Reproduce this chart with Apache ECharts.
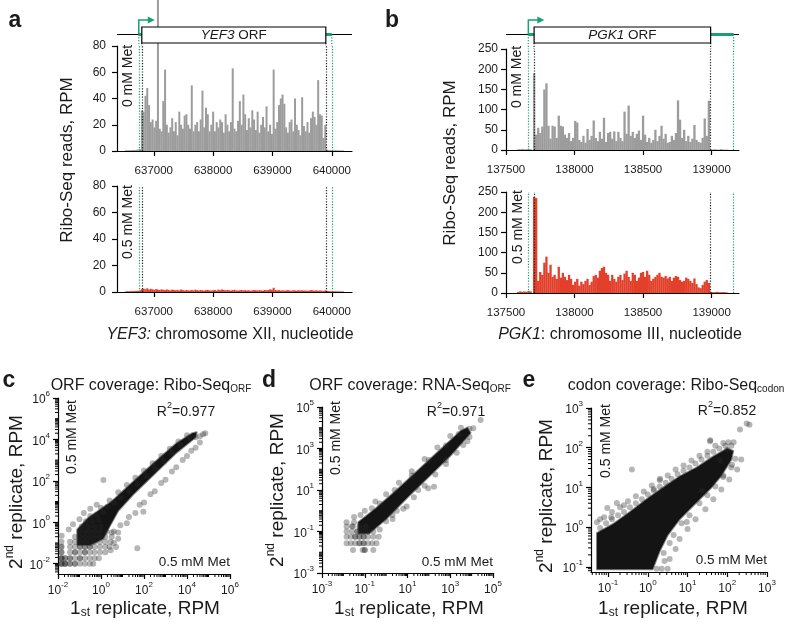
<!DOCTYPE html>
<html><head><meta charset="utf-8">
<script src="https://cdn.jsdelivr.net/npm/echarts@6.0.0/dist/echarts.min.js"></script>
<style>html,body{margin:0;padding:0;background:#fff}#c{width:785px;height:625px}</style>
</head><body><div id="c"></div>
<script>
// ---------------- DATA ----------------
// Panel a: YEF3 (chromosome XII), Ribo-Seq RPM per position
const yef3Pos = [636530,636560,636590,636620,636650,636680,636710,636740,636770,
636800,636830,636860,636890,636920,636950,636980,637010,637040,637070,
637100,637130,637160,637190,637220,637250,637280,637310,637340,637370,
637400,637430,637460,637490,637520,637550,637580,637610,637640,637670,
637700,637730,637760,637790,637820,637850,637880,637910,637940,637970,
638000,638030,638060,638090,638120,638150,638180,638210,638240,638270,
638300,638330,638360,638390,638420,638450,638480,638510,638540,638570,
638600,638630,638660,638690,638720,638750,638780,638810,638840,638870,
638900,638930,638960,638990,639020,639050,639080,639110,639140,639170,
639200,639230,639260,639290,639320,639350,639380,639410,639440,639470,
639500,639530,639560,639590,639620,639650,639680,639710,639740,639770,
639800,639830,639860,639890,
639920,639950,639980,640010,640040,640070,640100,640130,640160,640190];
const yef3Rpm0 = [0.6,0.5,0.7,0.6,0.8,0.7,1.0,1.2,1.5,
31,30,42,48,35,22,24,18,23,135,
17,15,38,62,20,14,18,25,15,22,
12,30,20,17,27,28,20,17,50,15,
20,22,15,24,46,18,33,28,15,20,
30,15,22,18,24,22,14,28,20,15,
22,63,17,15,23,38,20,43,28,16,
25,18,31,24,16,30,14,20,26,18,
34,15,20,13,62,17,22,35,40,43,
36,18,14,22,24,15,40,20,16,12,
41,19,15,22,14,25,30,26,20,54,
28,27,10,20,
1.0,0.8,0.7,0.6,0.5,0.6,0.5,0.4,0.5,0.4];
const yef3Rpm05 = [0.5,0.6,0.5,0.7,0.6,0.8,0.9,1.0,1.2,
2.2,2.5,2.0,2.8,1.8,2.4,2.0,1.6,2.2,1.8,
1.5,2.0,1.7,1.4,1.9,1.6,1.2,1.8,1.5,1.3,
1.6,1.2,1.9,1.4,1.1,1.5,1.3,1.0,1.6,1.2,
1.8,1.4,1.1,1.5,1.3,1.0,1.4,1.6,1.2,1.1,
1.3,1.5,1.0,1.8,1.4,1.9,1.6,1.2,1.5,1.3,
1.1,1.4,1.7,1.2,1.0,1.3,1.5,1.2,1.4,1.1,
1.3,1.0,1.2,1.5,1.3,1.1,1.4,1.2,1.0,1.6,
1.3,1.5,2.0,1.7,3.2,1.5,1.2,1.4,1.1,1.3,
1.0,1.2,1.4,1.1,0.9,1.3,1.2,1.0,1.4,1.1,
1.3,1.0,1.2,0.9,1.1,1.4,1.2,1.0,1.3,0.9,
1.1,1.0,0.8,1.2,
0.8,0.7,0.6,0.5,0.5,0.6,0.4,0.5,0.4,0.4];
// [TSS, ORF start, ORF end, TES]
const yef3Features = [636747, 636798, 639899, 640000];
const yef3Ticks = [637000, 638000, 639000, 640000];
const countTicksA = [0, 20, 40, 60, 80];

// Panel b: PGK1 (chromosome III)
const pgk1Pos = [137590,137605,137620,137635,137650,137665,137680,
137705,137720,137735,137750,137765,137780,137795,137810,137825,137840,
137855,137870,137885,137900,137915,137930,137945,137960,137975,137990,
138005,138020,138035,138050,138065,138080,138095,138110,138125,138140,
138155,138170,138185,138200,138215,138230,138245,138260,138275,138290,
138305,138320,138335,138350,138365,138380,138395,138410,138425,138440,
138455,138470,138485,138500,138515,138530,138545,138560,138575,138590,
138605,138620,138635,138650,138665,138680,138695,138710,138725,138740,
138755,138770,138785,138800,138815,138830,138845,138860,138875,138890,
138905,138920,138935,138950,138965,138980,
138995,139010,139025,139040,139055,139070,139085,139100,139115];
const pgk1Rpm0 = [2,2,3,2,2,3,2,
190,38,55,42,58,150,165,60,28,60,
58,30,85,60,58,38,30,42,22,30,
72,68,25,20,35,18,52,25,35,73,
30,22,45,28,80,20,42,45,28,46,
22,45,30,22,95,40,110,35,45,30,
40,48,25,85,38,20,30,18,25,50,
22,35,60,28,40,18,20,35,25,42,
123,75,30,50,22,35,20,28,62,25,
20,18,30,78,35,122,
2,1,2,1,1,2,1,1,1];
const pgk1Rpm05 = [3,4,3,4,3,5,4,
238,235,30,52,45,75,90,50,70,40,
45,35,65,38,50,40,32,45,35,20,
28,35,18,28,22,30,35,20,28,42,
45,38,55,62,65,50,45,30,45,35,
28,40,45,32,48,55,40,30,50,45,
30,38,50,52,40,55,45,30,35,40,
45,50,40,38,42,36,40,30,38,42,
40,32,28,30,38,35,30,25,36,22,
14,12,20,28,32,25,
3,2,2,3,2,2,2,2,1];
const pgk1Features = [137663, 137705, 138993, 139161];
const pgk1Ticks = [137500, 138000, 138500, 139000];
const countTicksB = [0, 50, 100, 150, 200, 250];

// Panels c-e: log10(RPM), replicate 1 vs replicate 2
// saturated (fully overlapping) region outlines
const cCore = [[-1.1,-0.35],[-0.6,0.2],[0.5,1.0],[1.5,1.95],[2.5,2.9],[3.5,3.8],[4.25,4.3],[4.45,4.35],
[4.4,4.1],[3.5,3.35],[2.5,2.35],[1.5,1.35],[0.8,0.55],[0.4,-0.2],[0.1,-0.8],[-0.5,-1.1],[-1.1,-1.1]];
const cPoints = [
[-1.84,-2],[-1.84,-2],[-1.84,-2],[-1.67,-2],[-1.67,-2],[-1.67,-2],[-1.44,-2],[-1.44,-2],[-1.21,-2],[-1.21,-2],[-0.98,-2],[-0.75,-2],[-0.52,-2],[-0.36,-2],
[-1.84,-1.74],[-1.84,-1.74],[-1.84,-1.74],[-1.67,-1.74],[-1.67,-1.74],[-1.44,-1.74],[-1.44,-1.74],[-1.21,-1.74],[-0.98,-1.74],[-0.98,-1.74],[-0.75,-1.74],[-0.52,-1.74],[-0.3,-1.74],[-0.1,-1.74],
[-1.84,-1.45],[-1.84,-1.45],[-1.44,-1.45],[-1.21,-1.45],[-1.21,-1.45],[-0.98,-1.45],[-0.75,-1.45],[-0.75,-1.45],[-0.52,-1.45],[-0.3,-1.45],[-0.05,-1.45],[0.2,-1.45],
[-1.84,-1.18],[-1.84,-1.18],[-1.44,-1.18],[-1.21,-1.18],[-0.98,-1.18],[-0.98,-1.18],[-0.75,-1.18],[-0.75,-1.18],[-0.52,-1.18],[-0.52,-1.18],[-0.3,-1.18],[-0.05,-1.18],[0.2,-1.18],[0.4,-1.18],
[-1.84,-0.94],[-1.44,-0.94],[-1.21,-0.94],[-0.98,-0.94],[-0.75,-0.94],[-0.52,-0.94],[-0.3,-0.94],[-0.05,-0.94],[0.2,-0.94],[0.45,-0.94],
[-1.83,-0.65],[-1.21,-0.7],[-0.98,-0.7],[-0.75,-0.7],[-0.52,-0.7],[-0.3,-0.7],[-0.05,-0.7],[0.2,-0.7],[0.5,-0.7],
[-1.0,-0.45],[-0.75,-0.45],[-0.52,-0.45],[-0.3,-0.45],[-0.05,-0.45],[0.25,-0.45],[0.6,-0.45],
[-0.9,-0.2],[-0.6,-0.2],[-0.3,-0.2],[0.0,-0.2],[-0.7,0.05],[-0.4,0.05],[-0.1,0.1],[-0.5,0.3],[-0.2,0.35],[0.1,0.5],
[-1.5,-0.35],[-1.3,-0.1],[-1.0,0.15],[-0.8,0.45],[-0.5,0.65],[-0.2,0.85],[0.6,-1.0],[0.8,-0.8],[0.45,-1.35],[0.7,-1.2],
[0.3,0.75],[0.6,0.95],[0.9,1.2],[1.3,1.5],[1.7,1.85],[2.1,2.25],[2.5,2.6],[2.9,2.95],[3.3,3.35],[3.7,3.7],[4.1,4.05],[4.4,4.1],[4.6,4.15],[4.75,4.25],[4.85,4.3],
[0.0,0.7],[0.4,1.05],[0.8,1.45],[1.2,1.8],[1.6,2.15],[2.0,2.5],[2.4,2.85],[2.8,3.2],[3.2,3.55],[3.6,3.9],[4.0,4.2],
[0.5,-0.5],[0.9,-0.15],[1.3,0.25],[1.8,0.85],[2.3,1.35],[2.8,1.9],[3.3,2.45],[3.8,3.0],[4.2,3.45],[4.6,3.85],
[0.8,-0.5],[1.2,-0.05],[1.6,0.45],[2.0,0.95],[2.5,1.5],[3.0,2.05],[3.5,2.65],[4.0,3.2],[4.4,3.6],
[0.11,2.04],[1.97,0.51],[1.69,-1.26]];
const dCore = [[-1.3,-0.55],[-0.5,0.1],[0.5,1.0],[1.5,1.95],[2.5,2.9],[3.5,3.85],[3.8,4.0],
[3.95,3.75],[3.0,2.65],[2.0,1.65],[1.0,0.65],[0.0,-0.4],[-0.8,-1.1],[-1.3,-1.1]];
const dPoints = [
[-1.55,-1.89],[-1.1,-1.89],[-1.0,-1.89],[-1.0,-1.89],[-0.6,-1.89],
[-1.85,-1.57],[-1.65,-1.57],[-1.45,-1.57],[-1.25,-1.57],[-1.25,-1.57],[-1.05,-1.57],[-1.05,-1.57],[-0.85,-1.57],[-0.65,-1.57],[-0.45,-1.57],
[-1.85,-1.25],[-1.65,-1.25],[-1.45,-1.25],[-1.45,-1.25],[-1.25,-1.25],[-1.25,-1.25],[-1.05,-1.25],[-1.05,-1.25],[-0.85,-1.25],[-0.6,-1.25],[-0.35,-1.25],
[-1.85,-1.0],[-1.6,-1.0],[-1.35,-1.0],[-1.35,-1.0],[-1.1,-1.0],[-0.85,-1.0],[-0.6,-1.0],
[-1.85,-0.76],[-1.55,-0.76],[-1.25,-0.76],[-0.95,-0.76],[-1.85,-0.55],[-1.5,-0.55],[-1.5,-0.3],[-1.2,-0.2],[-1.6,-0.75],
[-0.67,0.12],[-0.3,0.35],[0.4,1.0],[1.2,1.7],[2.0,2.45],[2.8,3.15],[3.4,3.7],[3.9,3.95],[4.08,3.97],[4.42,4.37],
[-1.0,0.0],[-0.5,0.45],[0.0,0.8],[0.6,1.35],[1.2,1.9],[1.8,2.5],[2.4,3.05],[3.0,3.6],[3.5,4.0],
[-0.3,-0.9],[0.3,-0.4],[0.8,0.1],[1.3,0.65],[1.8,1.2],[2.3,1.75],[2.8,2.25],[3.3,2.8],[3.8,3.35],
[0.0,-0.5],[0.3,-0.2],[0.5,0.0],[0.96,0.2],[1.5,1.0],[1.97,1.08],[2.24,1.16],[2.8,2.45],[3.61,3.17],[3.9,3.55]];
const eCore = [[-1.28,-1.06],[-1.28,-0.15],[-0.87,0.08],[-0.45,0.38],[-0.03,0.7],[0.39,1.0],[0.81,1.28],[1.23,1.5],[1.65,1.78],[2.0,1.98],
[2.15,1.92],[2.1,1.7],[1.85,1.3],[1.6,1.0],[1.2,0.6],[0.8,0.2],[0.5,-0.2],[0.3,-0.6],[0.12,-1.06]];
const ePoints = [
[-1.2,-0.02],[-1.05,0.1],[-0.9,0.2],[-0.75,0.3],[-0.6,0.38],[-0.45,0.5],[-0.3,0.6],[-0.15,0.7],[0.0,0.82],[0.15,0.92],[0.3,1.02],[0.45,1.12],
[0.6,1.22],[0.75,1.33],[0.9,1.42],[1.05,1.5],[1.2,1.6],[1.35,1.7],[1.5,1.8],[1.65,1.9],[1.8,1.98],[1.95,2.05],[2.1,2.05],
[-1.28,0.12],[-1.1,0.25],[-0.9,0.38],[-0.7,0.5],[-0.5,0.65],[-0.3,0.78],[-0.1,0.9],[0.1,1.05],[0.3,1.18],[0.5,1.3],[0.7,1.45],[0.9,1.55],
[1.1,1.68],[1.3,1.8],[1.5,1.9],[1.7,2.05],[1.9,2.12],
[0.22,-1.05],[0.35,-1.05],[0.42,-0.85],[0.4,-0.65],[0.55,-0.4],[0.65,-0.2],[0.85,0.1],[1.05,0.3],[1.3,0.6],[1.5,0.8],[1.7,1.02],[1.9,1.3],[2.1,1.5],[2.2,1.72],
[0.5,-1.05],[0.55,-0.8],[0.7,-0.55],[0.8,-0.3],[1.0,-0.05],[1.2,0.2],[1.45,0.45],[1.65,0.7],[1.85,0.95],[2.05,1.2],[2.25,1.45],[2.35,1.7],
[-0.4,1.45],[-1.02,0.48],[-0.78,0.61],[-0.92,0.25],[1.57,2.16],[1.57,2.19],[2.32,2.46],[2.49,2.61],[2.56,2.58],[2.16,2.14],[2.03,2.14],
[1.82,1.68],[2.12,1.57],[1.9,1.26],[1.36,0.93],[0.98,0.13],[0.31,1.22],[0.15,0.96],[-1.2,0.2],[-0.6,0.55],[2.0,1.95]];
const cTicks = [-2, 0, 2, 4, 6];
const dTicks = [-3, -1, 1, 3, 5];
const eTicks = [-1, 0, 1, 2, 3];
const r2Values = ['0.977', '0.971', '0.852'];

// ---------------- STYLE / HELPERS ----------------
const FONT = '"Liberation Sans", Arial, Helvetica, sans-serif';
const INK = '#1a1a1a';
const GRAY = '#9c9c9c';
const RED = '#e3402b';
const GREEN = '#16a173';
const BLACKDOT = '#222222';
const LOG_MINOR = [0.301, 0.477, 0.602, 0.699, 0.778, 0.845, 0.903, 0.954];
const AX = {color: '#000', width: 1.2};

function gridAt(l, t, w, h) { return {left: l, top: t, width: w, height: h, containLabel: false, outerBoundsMode: 'none'}; }
function hidden(gi, min, max) { return {type: 'value', gridIndex: gi, min: min, max: max, show: false}; }
function genomeX(gi, min, max, ticks) {
  return {type: 'value', gridIndex: gi, min: min, max: max,
    axisLine: {show: true, onZero: false, lineStyle: AX},
    axisTick: {show: true, length: 5, customValues: ticks, lineStyle: AX},
    axisLabel: {customValues: ticks, fontSize: 11.5, fontFamily: FONT, color: INK, margin: 14, formatter: v => String(v)},
    splitLine: {show: false}};
}
function countY(gi, max, ticks, margin) {
  return {type: 'value', gridIndex: gi, min: 0, max: max,
    axisLine: {show: true, onZero: false, lineStyle: AX},
    axisTick: {show: true, length: 5, customValues: ticks, lineStyle: AX},
    axisLabel: {customValues: ticks, fontSize: 12, fontFamily: FONT, color: INK, margin: margin},
    splitLine: {show: false}};
}
const supRich = {
  b: {fontSize: 12, lineHeight: 16, verticalAlign: 'bottom', color: INK, fontFamily: FONT},
  s: {fontSize: 8, lineHeight: 8, verticalAlign: 'top', color: INK, fontFamily: FONT}
};
function logAx(gi, min, max, ticks, margin) {
  return {type: 'value', gridIndex: gi, min: min, max: max,
    axisLine: {show: true, onZero: false, lineStyle: AX},
    axisTick: {show: true, length: 5, customValues: ticks, lineStyle: AX},
    axisLabel: {customValues: ticks, margin: margin, formatter: v => '{b|10}{s|' + v + '}', rich: supRich},
    splitLine: {show: false}};
}
function minorTickSeries(gi, xr, yr, xMaj, yMaj) {
  return {type: 'custom', xAxisIndex: gi, yAxisIndex: gi, silent: true, z: 1, clip: false,
    data: [[xr[0], yr[0]]],
    renderItem: function (params, api) {
      const cs = params.coordSys, kids = [];
      const bottom = cs.y + cs.height, left = cs.x;
      const add = (lo, hi, maj, toPx, horiz) => {
        for (let d = Math.floor(lo) - 1; d <= Math.ceil(hi); d++) {
          [0].concat(LOG_MINOR).forEach(o => {
            const v = d + o;
            if (v < lo - 1e-6 || v > hi + 1e-6) return;
            if (o === 0 && maj.indexOf(d) >= 0) return;
            const p = toPx(v);
            kids.push(horiz
              ? {type: 'line', shape: {x1: p, y1: bottom, x2: p, y2: bottom + 3}, style: {stroke: '#000', lineWidth: 1}}
              : {type: 'line', shape: {x1: left, y1: p, x2: left - 3, y2: p}, style: {stroke: '#000', lineWidth: 1}});
          });
        }
      };
      add(xr[0], xr[1], xMaj, v => api.coord([v, yr[0]])[0], true);
      add(yr[0], yr[1], yMaj, v => api.coord([xr[0], v])[1], false);
      return {type: 'group', children: kids};
    }};
}
function coreSeries(gi, pts) {
  return {type: 'custom', xAxisIndex: gi, yAxisIndex: gi, silent: true, z: 3, data: pts,
    renderItem: function (params, api) {
      if (params.dataIndex !== 0) return {type: 'group', children: []};
      return {type: 'polygon', shape: {points: pts.map(p => api.coord(p))},
        style: {fill: '#141414', stroke: 'rgba(20,20,20,0.5)', lineWidth: 2, lineJoin: 'round'}};
    }};
}
function pointSeries(gi, pts) {
  return {type: 'scatter', xAxisIndex: gi, yAxisIndex: gi, silent: true, z: 4, data: pts,
    symbol: 'circle', symbolSize: 6, itemStyle: {color: '#2a2a2a', opacity: 0.34}};
}
function guideLines(feat) {
  const st = c => ({color: c, type: [1.2, 1.6], width: 1.2});
  return {silent: true, symbol: ['none', 'none'], animation: false, label: {show: false},
    emphasis: {disabled: true}, lineStyle: st(GREEN),
    data: [{xAxis: feat[0], lineStyle: st(GREEN)}, {xAxis: feat[3], lineStyle: st(GREEN)},
           {xAxis: feat[1], lineStyle: st(BLACKDOT)}, {xAxis: feat[2], lineStyle: st(BLACKDOT)}]};
}
function barSeries(gi, pos, vals, color, width, feat) {
  return {type: 'bar', xAxisIndex: gi, yAxisIndex: gi, z: 2, clip: false, silent: true,
    data: pos.map((p, i) => [p, vals[i]]), barWidth: width, itemStyle: {color: color},
    markLine: guideLines(feat)};
}
function geneModel(gi, feat, gene, ext) {
  return {type: 'custom', xAxisIndex: gi, yAxisIndex: gi, silent: true, z: 6, clip: false, data: [feat],
    renderItem: function (params, api) {
      const cs = params.coordSys;
      const X = i => api.coord([api.value(i), 0])[0];
      const tss = X(0), s = X(1), e = X(2), tes = X(3);
      const bot = cs.y + cs.height;
      const ly = bot - 11.5, bt = bot - 19, bb = bot - 3, at = bot - 26;
      const dot = (x, y1, c) => ({type: 'line', shape: {x1: x, y1: y1, x2: x, y2: bot + ext},
        style: {stroke: c, lineWidth: 1.2, lineDash: [1.2, 1.6]}});
      return {type: 'group', children: [
        {type: 'line', shape: {x1: cs.x, y1: ly, x2: cs.x + cs.width, y2: ly}, style: {stroke: '#000', lineWidth: 1.2}},
        {type: 'line', shape: {x1: tss, y1: ly, x2: s, y2: ly}, style: {stroke: GREEN, lineWidth: 3}},
        {type: 'line', shape: {x1: e, y1: ly, x2: tes, y2: ly}, style: {stroke: GREEN, lineWidth: 3}},
        dot(tss, ly, GREEN), dot(tes, ly, GREEN), dot(s, bb, BLACKDOT), dot(e, bb, BLACKDOT),
        {type: 'rect', shape: {x: s, y: bt, width: e - s, height: bb - bt}, style: {fill: '#fff', stroke: '#000', lineWidth: 1.2}},
        {type: 'text', x: (s + e) / 2, y: (bt + bb) / 2 + 0.5, style: {text: '{i|' + gene + '} ORF', fill: INK,
          fontFamily: FONT, fontSize: 13.5, align: 'center', verticalAlign: 'middle',
          rich: {i: {fontStyle: 'italic', fontFamily: FONT, fontSize: 13.5, fill: INK}}}},
        {type: 'polyline', shape: {points: [[tss, ly], [tss, at], [tss + 11, at]]}, style: {stroke: GREEN, lineWidth: 1.5, fill: null}},
        {type: 'polygon', shape: {points: [[tss + 9, at - 3.5], [tss + 16, at], [tss + 9, at + 3.5]]}, style: {fill: GREEN}}
      ]};
    }};
}
function scriptRich(size) {
  const sm = Math.round(size * 0.63);
  return {
    m: {fontSize: size, lineHeight: size + 4, verticalAlign: 'bottom', fontFamily: FONT, fill: INK},
    i: {fontSize: size, lineHeight: size + 4, verticalAlign: 'bottom', fontFamily: FONT, fill: INK, fontStyle: 'italic'},
    p: {fontSize: sm, lineHeight: sm, verticalAlign: 'top', fontFamily: FONT, fill: INK},
    b: {fontSize: sm, lineHeight: sm, verticalAlign: 'bottom', fontFamily: FONT, fill: INK}
  };
}
function txt(x, y, text, size, o) {
  o = o || {};
  const style = {text: text, fill: INK, fontFamily: FONT, fontSize: size, fontWeight: o.bold ? 'bold' : 'normal',
    align: o.align || 'center', verticalAlign: 'middle'};
  if (o.rich) style.rich = scriptRich(size);
  return {type: 'text', x: x, y: y, rotation: o.rot ? Math.PI / 2 : 0, silent: true, z: 100, style: style};
}

// ---------------- OPTION ----------------
const texts = [
  txt(15, 21, 'a', 23, {bold: true}), txt(392, 21, 'b', 23, {bold: true}),
  txt(9, 381, 'c', 23, {bold: true}), txt(269, 381, 'd', 23, {bold: true}), txt(529, 381, 'e', 23, {bold: true}),
  txt(128, 76, '0 mM Met', 14, {rot: true}), txt(128, 222, '0.5 mM Met', 14, {rot: true}),
  txt(517, 77, '0 mM Met', 14, {rot: true}), txt(518, 227, '0.5 mM Met', 14, {rot: true}),
  txt(67, 160, 'Ribo-Seq reads, RPM', 17, {rot: true}), txt(450, 163, 'Ribo-Seq reads, RPM', 17, {rot: true}),
  txt(230, 333, '{i|YEF3:}{m| chromosome XII, nucleotide}', 16, {rich: true}),
  txt(620, 333, '{i|PGK1}{m|: chromosome III, nucleotide}', 16, {rich: true}),
  // c
  txt(151, 384, '{m|ORF coverage: Ribo-Seq}{b|ORF}', 16, {rich: true}),
  txt(186, 410, '{m|R}{p|2}{m|=' + r2Values[0] + '}', 14, {rich: true}),
  txt(72, 437, '0.5 mM Met', 14, {rot: true}),
  txt(230, 562, '0.5 mM Met', 13.5, {align: 'right'}),
  txt(15, 492, '{m|2}{p|nd}{m| replicate, RPM}', 19, {rot: true, rich: true}),
  txt(145, 607, '{m|1}{b|st}{m| replicate, RPM}', 19, {rich: true}),
  // d
  txt(410, 384, '{m|ORF coverage: RNA-Seq}{b|ORF}', 16, {rich: true}),
  txt(456, 410, '{m|R}{p|2}{m|=' + r2Values[1] + '}', 14, {rich: true}),
  txt(336, 438, '0.5 mM Met', 14, {rot: true}),
  txt(493, 562, '0.5 mM Met', 13.5, {align: 'right'}),
  txt(276, 490, '{m|2}{p|nd}{m| replicate, RPM}', 19, {rot: true, rich: true}),
  txt(409, 607, '{m|1}{b|st}{m| replicate, RPM}', 19, {rich: true}),
  // e
  txt(676, 384, '{m|codon coverage: Ribo-Seq}{b|codon}', 16, {rich: true}),
  txt(727, 409, '{m|R}{p|2}{m|=' + r2Values[2] + '}', 14, {rich: true}),
  txt(606, 441, '0.5 mM Met', 14, {rot: true}),
  txt(767, 560, '0.5 mM Met', 13.5, {align: 'right'}),
  txt(545, 496, '{m|2}{p|nd}{m| replicate, RPM}', 19, {rot: true, rich: true}),
  txt(673, 607, '{m|1}{b|st}{m| replicate, RPM}', 19, {rich: true})
];

const option = {
  animation: false,
  backgroundColor: '#fff',
  textStyle: {fontFamily: FONT},
  grid: [
    gridAt(117, 10, 235, 36),   // 0 a gene model
    gridAt(117, 46, 235, 105),  // 1 a 0 mM
    gridAt(117, 186, 235, 106), // 2 a 0.5 mM
    gridAt(506, 10, 233, 36),   // 3 b gene model
    gridAt(506, 49, 233, 101),  // 4 b 0 mM
    gridAt(506, 192, 233, 101), // 5 b 0.5 mM
    gridAt(58, 398, 172, 176),  // 6 c
    gridAt(322, 407, 171, 166), // 7 d
    gridAt(591, 408, 176, 164)  // 8 e
  ],
  xAxis: [
    hidden(0, 636380, 640340),
    genomeX(1, 636380, 640340, yef3Ticks),
    genomeX(2, 636380, 640340, yef3Ticks),
    hidden(3, 137500, 139200),
    genomeX(4, 137500, 139200, pgk1Ticks),
    genomeX(5, 137500, 139200, pgk1Ticks),
    logAx(6, -2, 6, cTicks, 7),
    logAx(7, -3, 5, dTicks, 7),
    logAx(8, -1.43, 3, eTicks, 7)
  ],
  yAxis: [
    hidden(0, 0, 1),
    countY(1, 80, countTicksA, 11),
    countY(2, 80, countTicksA, 11),
    hidden(3, 0, 1),
    countY(4, 250, countTicksB, 8),
    countY(5, 250, countTicksB, 8),
    logAx(6, -2.5, 6, cTicks, 8),
    logAx(7, -3, 5, dTicks, 8),
    logAx(8, -1.13, 3, eTicks, 8)
  ],
  series: [
    geneModel(0, yef3Features, 'YEF3', 0),
    barSeries(1, yef3Pos, yef3Rpm0, GRAY, 2, yef3Features),
    barSeries(2, yef3Pos, yef3Rpm05, RED, 2, yef3Features),
    geneModel(3, pgk1Features, 'PGK1', 3),
    barSeries(4, pgk1Pos, pgk1Rpm0, GRAY, 2.3, pgk1Features),
    barSeries(5, pgk1Pos, pgk1Rpm05, RED, 2.3, pgk1Features),
    minorTickSeries(6, [-2, 6], [-2.5, 6], cTicks, cTicks),
    coreSeries(6, cCore), pointSeries(6, cPoints),
    minorTickSeries(7, [-3, 5], [-3, 5], dTicks, dTicks),
    coreSeries(7, dCore), pointSeries(7, dPoints),
    minorTickSeries(8, [-1.43, 3], [-1.13, 3], eTicks, eTicks),
    coreSeries(8, eCore), pointSeries(8, ePoints)
  ],
  graphic: {elements: texts}
};

const chart = echarts.init(document.getElementById('c'), null, {renderer: 'canvas', width: 785, height: 625});
chart.setOption(option);
</script></body></html>
